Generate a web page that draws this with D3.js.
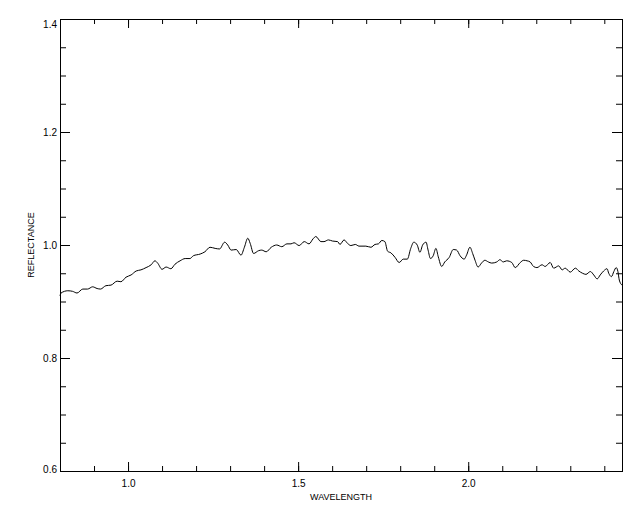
<!DOCTYPE html>
<html lang="en">
<head>
    <meta charset="UTF-8">
    <title>reflectance spectrum</title>
    <script src="https://d3js.org/d3.v7.min.js"></script>
    <style>
        body { margin: 0; background: #fff; }
        text { font-family: "Liberation Sans", Arial, sans-serif; fill: #000; }
    </style>
</head>
<body>
    <svg id="chart" width="640" height="512"></svg>

    <script>
        // spectrum
        const wavelength = [
            0.800, 0.803, 0.823, 0.837, 0.850, 0.867, 0.881, 0.896, 0.909, 0.919,
            0.935, 0.950, 0.968, 0.979, 0.994, 1.009, 1.024, 1.038, 1.053, 1.068,
            1.079, 1.087, 1.100, 1.112, 1.126, 1.138, 1.153, 1.168, 1.182, 1.192,
            1.212, 1.226, 1.241, 1.256, 1.269, 1.284, 1.293, 1.303, 1.318, 1.332,
            1.342, 1.352, 1.359, 1.369, 1.384, 1.393, 1.406, 1.421, 1.437, 1.452,
            1.467, 1.479, 1.488, 1.503, 1.518, 1.532, 1.544, 1.552, 1.567, 1.576,
            1.589, 1.601, 1.616, 1.623, 1.635, 1.645, 1.655, 1.668, 1.679, 1.699,
            1.714, 1.726, 1.736, 1.746, 1.755, 1.763, 1.773, 1.785, 1.797, 1.809,
            1.821, 1.831, 1.840, 1.850, 1.858, 1.866, 1.876, 1.882, 1.889, 1.897,
            1.905, 1.912, 1.922, 1.931, 1.944, 1.956, 1.966, 1.976, 1.988, 1.995,
            2.005, 2.013, 2.020, 2.029, 2.039, 2.049, 2.059, 2.069, 2.084, 2.093,
            2.103, 2.113, 2.128, 2.138, 2.153, 2.163, 2.173, 2.182, 2.192, 2.202,
            2.217, 2.226, 2.241, 2.251, 2.266, 2.276, 2.285, 2.300, 2.315, 2.325,
            2.336, 2.346, 2.359, 2.369, 2.379, 2.388, 2.398, 2.408, 2.413, 2.421,
            2.428, 2.435, 2.440, 2.444, 2.452
        ];
        const reflectance = [
            0.910, 0.915, 0.919, 0.918, 0.915, 0.922, 0.922, 0.926, 0.923, 0.922,
            0.928, 0.929, 0.936, 0.935, 0.943, 0.947, 0.954, 0.956, 0.960, 0.965,
            0.972, 0.968, 0.957, 0.961, 0.958, 0.966, 0.972, 0.976, 0.976, 0.981,
            0.984, 0.988, 0.996, 0.994, 0.993, 1.005, 1.000, 0.991, 0.992, 0.982,
            0.996, 1.012, 1.003, 0.985, 0.990, 0.991, 0.988, 0.996, 1.000, 0.997,
            1.002, 1.002, 1.004, 0.999, 1.006, 1.002, 1.011, 1.015, 1.006, 1.006,
            1.009, 1.007, 1.006, 1.001, 1.009, 1.003, 0.999, 1.001, 0.998, 0.998,
            0.996, 1.001, 1.002, 1.008, 1.006, 0.989, 0.986, 0.978, 0.969, 0.975,
            0.975, 0.994, 1.005, 1.000, 0.987, 1.000, 1.005, 0.991, 0.976, 0.981,
            0.994, 0.979, 0.962, 0.970, 0.978, 0.992, 0.991, 0.981, 0.975, 0.982,
            0.996, 0.985, 0.973, 0.961, 0.968, 0.973, 0.970, 0.968, 0.970, 0.974,
            0.970, 0.972, 0.969, 0.960, 0.969, 0.973, 0.972, 0.970, 0.962, 0.960,
            0.965, 0.962, 0.969, 0.959, 0.963, 0.956, 0.959, 0.952, 0.959, 0.954,
            0.950, 0.948, 0.953, 0.947, 0.940, 0.947, 0.954, 0.958, 0.950, 0.944,
            0.953, 0.960, 0.953, 0.938, 0.929
        ];

        const xMajor = [1.0, 1.5, 2.0];
        const xMinor = d3.range(8, 25).map(d => d / 10);
        const yMajor = [0.6, 0.8, 1.0, 1.2, 1.4];
        const yMinor = d3.range(12, 29).map(d => d / 20);

        const svg = d3.select("#chart");
        const margin = { top: 19, right: 18, bottom: 41, left: 60 };
        const width = 640, height = 512;
        const plotWidth = width - margin.left - margin.right;
        const plotHeight = height - margin.top - margin.bottom;

        svg.append("rect").attr("width", width).attr("height", height).attr("fill", "#fff");

        const x = d3.scaleLinear().domain([0.8, 2.452]).range([margin.left, margin.left + plotWidth]);
        const y = d3.scaleLinear().domain([0.6, 1.4]).range([margin.top + plotHeight, margin.top]);

        function styleAxis(g) {
            g.select(".domain").remove();
            g.selectAll("line").attr("stroke", "#000");
            g.selectAll("text").style("font-size", "10px");
        }

        // bottom
        svg.append("g").attr("transform", `translate(0,${margin.top + plotHeight})`)
            .call(d3.axisBottom(x).tickValues(xMinor).tickSize(-5).tickFormat(""))
            .call(styleAxis);
        svg.append("g").attr("transform", `translate(0,${margin.top + plotHeight})`)
            .call(d3.axisBottom(x).tickValues(xMajor).tickSize(-9).tickPadding(9).tickFormat(d3.format(".1f")))
            .call(styleAxis);
        // top
        svg.append("g").attr("transform", `translate(0,${margin.top})`)
            .call(d3.axisTop(x).tickValues(xMinor).tickSize(-5).tickFormat(""))
            .call(styleAxis);
        svg.append("g").attr("transform", `translate(0,${margin.top})`)
            .call(d3.axisTop(x).tickValues(xMajor).tickSize(-9).tickFormat(""))
            .call(styleAxis);
        // left
        svg.append("g").attr("transform", `translate(${margin.left},0)`)
            .call(d3.axisLeft(y).tickValues(yMinor).tickSize(-6).tickFormat(""))
            .call(styleAxis);
        const leftAxis = svg.append("g").attr("transform", `translate(${margin.left},0)`)
            .call(d3.axisLeft(y).tickValues(yMajor).tickSize(-10).tickPadding(3).tickFormat(d3.format(".1f")))
            .call(styleAxis);
        // end labels pushed inward like the original
        leftAxis.selectAll("text")
            .attr("dy", d => d === 1.4 ? "0.8em" : (d === 0.6 ? "0.1em" : "0.35em"));
        // right
        svg.append("g").attr("transform", `translate(${margin.left + plotWidth},0)`)
            .call(d3.axisRight(y).tickValues(yMinor).tickSize(-6).tickFormat(""))
            .call(styleAxis);
        svg.append("g").attr("transform", `translate(${margin.left + plotWidth},0)`)
            .call(d3.axisRight(y).tickValues(yMajor).tickSize(-10).tickFormat(""))
            .call(styleAxis);

        // frame
        svg.append("rect")
            .attr("x", margin.left + 0.5)
            .attr("y", margin.top + 0.5)
            .attr("width", plotWidth)
            .attr("height", plotHeight)
            .attr("fill", "none")
            .attr("stroke", "#000")
            .attr("stroke-width", 1);

        const line = d3.line()
            .x((d, i) => x(wavelength[i]))
            .y(d => y(d))
            .curve(d3.curveMonotoneX);

        svg.append("path")
            .datum(reflectance)
            .attr("d", line)
            .attr("fill", "none")
            .attr("stroke", "#000")
            .attr("stroke-width", 1);

        svg.append("text")
            .attr("x", margin.left + plotWidth / 2)
            .attr("y", 500)
            .attr("text-anchor", "middle")
            .style("font-size", "9px")
            .text("WAVELENGTH");

        svg.append("text")
            .attr("transform", `translate(34,${margin.top + plotHeight / 2}) rotate(-90)`)
            .attr("text-anchor", "middle")
            .style("font-size", "9px")
            .text("REFLECTANCE");
    </script>
</body>
</html>
